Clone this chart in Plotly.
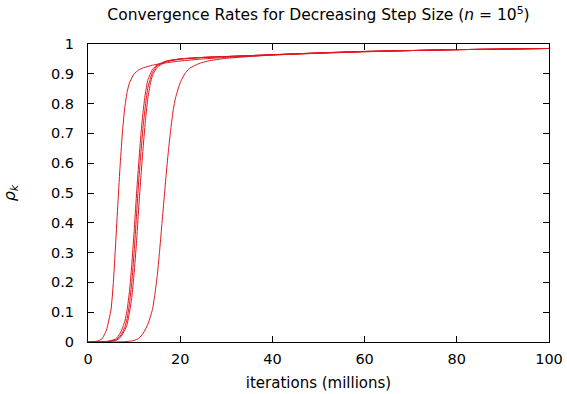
import plotly.graph_objects as go

# Run A (leftmost)
xa = [0, 2, 3, 4, 5, 5.5, 6, 6.5, 7, 7.5, 8, 8.5, 9, 10, 11, 12, 14, 17, 20, 25, 30, 40, 50, 60, 70, 80, 90, 100]
ya = [0, 0.003, 0.01, 0.04, 0.11, 0.2, 0.33, 0.47, 0.6, 0.71, 0.79, 0.84, 0.87, 0.9, 0.913, 0.92, 0.929, 0.937, 0.943, 0.95, 0.955, 0.963, 0.969, 0.974, 0.978, 0.981, 0.983, 0.985]
# Run B
xb = [0, 4, 6, 7, 8, 8.5, 9, 9.5, 10, 10.5, 11, 11.5, 12, 12.5, 13, 14, 15, 17, 20, 25, 30, 40, 50, 60, 70, 80, 90, 100]
yb = [0, 0.002, 0.01, 0.03, 0.07, 0.11, 0.17, 0.26, 0.37, 0.49, 0.6, 0.7, 0.78, 0.84, 0.88, 0.915, 0.93, 0.943, 0.95, 0.955, 0.958, 0.964, 0.97, 0.975, 0.978, 0.981, 0.983, 0.985]
# Run C
xc = [0, 4, 6, 7, 8, 8.5, 9, 9.5, 10, 10.5, 11, 11.5, 12, 12.5, 13, 14, 15, 17, 20, 25, 30, 40, 50, 60, 70, 80, 90, 100]
yc = [0, 0.001, 0.007, 0.02, 0.05, 0.08, 0.13, 0.2, 0.3, 0.42, 0.54, 0.64, 0.73, 0.8, 0.855, 0.905, 0.927, 0.942, 0.95, 0.955, 0.958, 0.964, 0.97, 0.975, 0.978, 0.981, 0.983, 0.985]
# Run D
xd = [0, 4, 6, 7, 8, 8.5, 9, 9.5, 10, 10.5, 11, 11.5, 12, 12.5, 13, 13.5, 14, 15, 17, 20, 25, 30, 40, 50, 60, 70, 80, 90, 100]
yd = [0, 0.001, 0.005, 0.015, 0.04, 0.06, 0.1, 0.15, 0.23, 0.33, 0.45, 0.56, 0.66, 0.75, 0.82, 0.865, 0.895, 0.922, 0.94, 0.949, 0.955, 0.958, 0.964, 0.97, 0.975, 0.978, 0.981, 0.983, 0.985]
# Run E (rightmost)
xe = [0, 8, 10, 11, 12, 13, 14, 14.5, 15, 15.5, 16, 16.5, 17, 17.5, 18, 18.5, 19, 20, 21, 22, 24, 26, 30, 40, 50, 60, 70, 80, 90, 100]
ye = [0, 0.001, 0.005, 0.012, 0.03, 0.06, 0.11, 0.16, 0.22, 0.3, 0.39, 0.48, 0.57, 0.65, 0.72, 0.78, 0.82, 0.87, 0.9, 0.918, 0.934, 0.943, 0.952, 0.963, 0.969, 0.974, 0.978, 0.981, 0.983, 0.985]

runs = [(xa, ya), (xb, yb), (xc, yc), (xd, yd), (xe, ye)]

x_ticks = [0, 20, 40, 60, 80, 100]
y_ticks = [0, 0.1, 0.2, 0.3, 0.4, 0.5, 0.6, 0.7, 0.8, 0.9, 1]

FONT = "DejaVu Sans"
RED = "#e3141c"

fig = go.Figure()
for x, y in runs:
    fig.add_trace(go.Scatter(x=x, y=y, mode="lines",
                             line=dict(color=RED, width=1, shape="spline", smoothing=0.5),
                             showlegend=False, hoverinfo="skip"))

axis_common = dict(showgrid=False, zeroline=False, showline=True, linecolor="black",
                   linewidth=1, mirror="ticks", ticks="inside", ticklen=6,
                   tickcolor="black", automargin=False, ticklabeloverflow="allow",
                   tickfont=dict(family=FONT, size=14.5, color="black"))

fig.update_layout(
    width=567, height=394,
    margin=dict(l=88, r=18, t=44, b=52, autoexpand=False),
    paper_bgcolor="white", plot_bgcolor="white",
    font=dict(family=FONT, size=14, color="black"),
    title=dict(text="Convergence Rates for Decreasing Step Size (<i>n</i> = 10<sup>5</sup>)",
               x=0.5, xanchor="center", y=0.962, yanchor="middle", xref="paper",
               font=dict(family=FONT, size=15.5), automargin=False),
    xaxis=dict(range=[0, 100], tickvals=x_ticks, ticktext=[str(v) for v in x_ticks],
               ticklabelstandoff=4,
               title=dict(text="iterations (millions)", standoff=11,
                          font=dict(family=FONT, size=15)),
               **axis_common),
    yaxis=dict(range=[0, 1], tickvals=y_ticks, ticktext=[f"{v:g}" for v in y_ticks],
               ticklabelstandoff=10,
               title=dict(text="<i>ρ<sub>k</sub></i>", standoff=34,
                          font=dict(family=FONT, size=16)),
               **axis_common),
)

# Remove the browser's default 8px body margin so the figure fills the window exactly.
fig.write_html("out.html", config={"displayModeBar": False},
               post_script="document.body.style.margin='0';")
